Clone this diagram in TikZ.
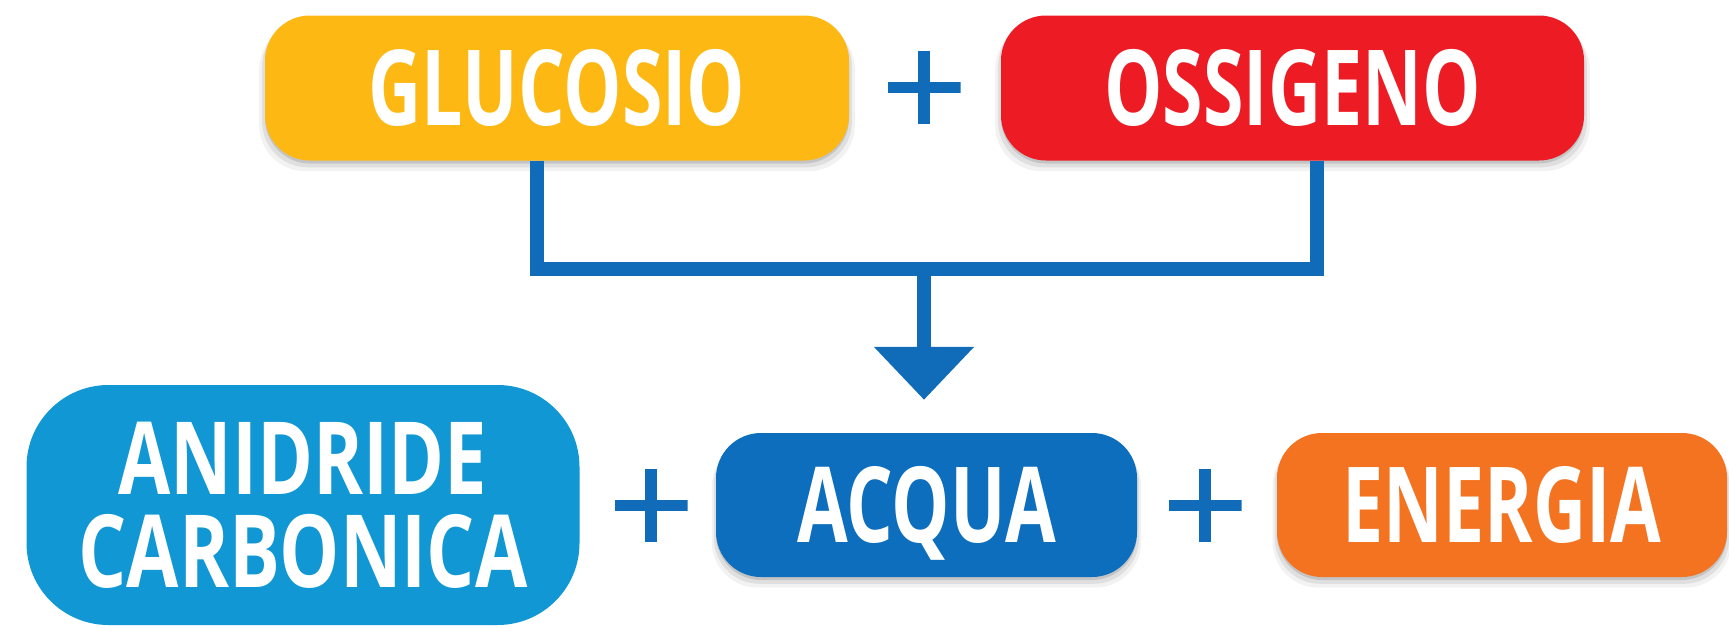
\documentclass[tikz,border=0pt]{standalone}
\usepackage{fontspec}
\newfontfamily\cond[FakeStretch=0.70]{Open Sans Bold}
\newfontfamily\condw[FakeStretch=0.75]{Open Sans Bold}
\usetikzlibrary{shadows,arrows.meta}
\definecolor{cyel}{RGB}{253,184,19}
\definecolor{cred}{RGB}{237,28,36}
\definecolor{clblue}{RGB}{16,151,212}
\definecolor{cblue}{RGB}{12,110,188}
\definecolor{corange}{RGB}{243,115,33}
\definecolor{cline}{RGB}{16,108,184}
\begin{document}
\begin{tikzpicture}[x=1pt,y=-1pt,
  softshadow/.style={
    general shadow={fill=black,opacity=0.05,shadow scale=1.02,shadow yshift=-9pt},
    general shadow={fill=black,opacity=0.08,shadow scale=1.01,shadow yshift=-6pt},
    general shadow={fill=black,opacity=0.12,shadow yshift=-3pt}},
  pill/.style={rounded corners=45pt, text=white, inner sep=0pt,
    font=\cond\fontsize{105}{105}\selectfont, text height=75pt, text depth=0pt},
  big/.style={rounded corners=82pt, text=white, inner sep=0pt, align=center,
    font=\condw\fontsize{101}{93}\selectfont},
  conn/.style={draw=cline, line width=14pt, line join=miter},
  plus/.style={minimum size=73pt, inner sep=0pt,
    path picture={
      \draw[cline, line width=12pt] (path picture bounding box.north) -- (path picture bounding box.south);
      \draw[cline, line width=11pt] (path picture bounding box.west) -- (path picture bounding box.east);}}
]
\path[use as bounding box] (0,0) rectangle (1729,627);

\node[pill, softshadow, fill=cyel, minimum width=584pt, minimum height=145pt] (glu) at (557,88) {GLUCOSIO};
\node[pill, softshadow, fill=cred, minimum width=583pt, minimum height=145pt] (oss) at (1292.5,88) {OSSIGENO};
\node[plus] (p1) at (924,87) {};

\node[big, fill=clblue, minimum width=553pt, minimum height=240pt] (ani) at (303,505) {ANIDRIDE\\CARBONICA};
\node[pill, softshadow, fill=cblue, minimum width=421pt, minimum height=144pt] (acq) at (926.5,505) {ACQUA};
\node[pill, softshadow, fill=corange, minimum width=450pt, minimum height=144pt] (ene) at (1502,505) {ENERGIA};
\node[plus] (p2) at (651,505) {};
\node[plus] (p3) at (1205,505) {};

\coordinate (j) at (924,269);
\draw[conn] ([xshift=-20pt]glu.south) |- (j);
\draw[conn] ([xshift=24.5pt]oss.south) |- (j);
\draw[conn, -{Triangle[length=53pt,width=97pt]}] (j) -- ([yshift=33pt]acq.north -| j);
\end{tikzpicture}
\end{document}
